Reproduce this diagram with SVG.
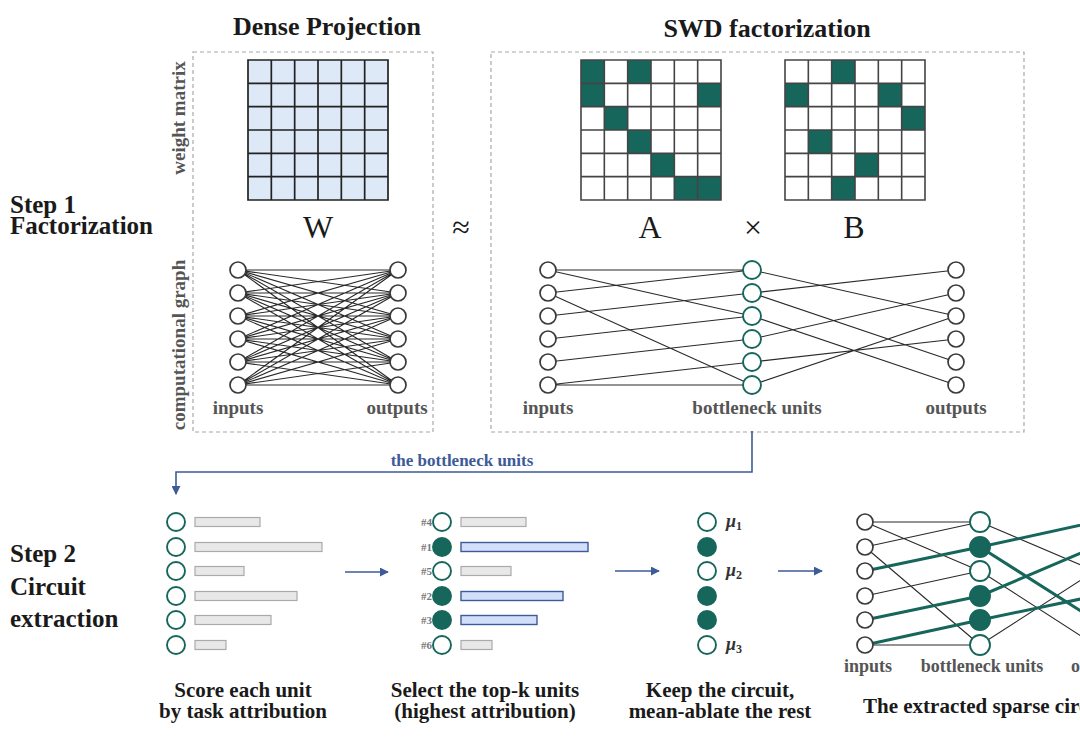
<svg xmlns="http://www.w3.org/2000/svg" width="1080" height="744" viewBox="0 0 1080 744">
<defs>
<marker id="ah" viewBox="0 0 10 10" refX="9" refY="5" markerWidth="9" markerHeight="9" markerUnits="userSpaceOnUse" orient="auto">
<path d="M0 0L10 5L0 10z" fill="#3d5a99"/>
</marker>
</defs>
<style>
.t{font-family:"Liberation Serif","Times New Roman",serif;font-weight:bold;fill:#1a1a1a}
.lab{font-family:"Liberation Serif",serif;font-weight:bold;fill:#555}
.sym{font-family:"Liberation Serif",serif;fill:#1a1a1a;font-size:32px}
.box{fill:none;stroke:#a8a8a8;stroke-width:1.2;stroke-dasharray:4 3}
.grid{fill:none;stroke:#222;stroke-width:1.7}
.ggrid{fill:none;stroke:#444;stroke-width:1.6}
.fc{fill:#17665b}
.edge{fill:none;stroke:#2a2a2a;stroke-width:1.1}
.thick{fill:none;stroke:#17665b;stroke-width:3}
.nd{fill:#fff;stroke:#3a3a3a;stroke-width:1.7}
.nt{fill:#fff;stroke:#17665b;stroke-width:1.9}
.nf{fill:#17665b;stroke:#17665b;stroke-width:1.9}
.bar{fill:#e8e8e8;stroke:#aaa;stroke-width:1.2}
.bb{fill:#d2defa;stroke:#3d5a99;stroke-width:1.4}
.arr{fill:none;stroke:#3d5a99;stroke-width:1.6}
.rk{font-family:"Liberation Serif",serif;font-weight:bold;font-size:11px;fill:#777}
.mu{font-family:"Liberation Serif",serif;font-style:italic;font-weight:bold;font-size:18px;fill:#333}
</style>
<rect width="1080" height="744" fill="#fff"/>

<g id="labels-left">
<text class="t" x="10" y="213" font-size="25">Step 1</text>
<text class="t" x="10" y="234" font-size="25">Factorization</text>
<text class="t" x="10" y="562" font-size="25">Step 2</text>
<text class="t" x="10" y="595" font-size="25">Circuit</text>
<text class="t" x="10" y="627" font-size="25">extraction</text>
</g>

<g id="dense-panel">
<text class="t" x="327" y="35" font-size="26" text-anchor="middle">Dense Projection</text>
<rect class="box" x="193" y="52" width="240" height="380"/>
<text class="lab" font-size="19" text-anchor="middle" transform="translate(185 118) rotate(-90)">weight matrix</text>
<text class="lab" font-size="19" text-anchor="middle" transform="translate(185 345) rotate(-90)">computational graph</text>
</g>

<g id="matrix-W">
<rect x="248" y="60" width="140" height="140" fill="#dde9f6"/>
<path class="grid" d="M248 60H388V200H248Z M271.33 60V200 M294.67 60V200 M318 60V200 M341.33 60V200 M364.67 60V200 M248 83.33H388 M248 106.67H388 M248 130H388 M248 153.33H388 M248 176.67H388"/>
<text class="sym" x="318" y="238" text-anchor="middle">W</text>
</g>

<text class="sym" x="461" y="238" text-anchor="middle">≈</text>

<g id="swd-panel">
<text class="t" x="767" y="37" font-size="26" text-anchor="middle">SWD factorization</text>
<rect class="box" x="491" y="52" width="533" height="380"/>
</g>

<g id="matrix-A" transform="translate(581 60)">
<rect width="140" height="140" fill="#fff"/>
<rect class="fc" x="0" y="0" width="23.33" height="23.33"/>
<rect class="fc" x="46.67" y="0" width="23.33" height="23.33"/>
<rect class="fc" x="0" y="23.33" width="23.33" height="23.33"/>
<rect class="fc" x="116.67" y="23.33" width="23.33" height="23.33"/>
<rect class="fc" x="23.33" y="46.67" width="23.33" height="23.33"/>
<rect class="fc" x="46.67" y="70" width="23.33" height="23.33"/>
<rect class="fc" x="70" y="93.33" width="23.33" height="23.33"/>
<rect class="fc" x="93.33" y="116.67" width="23.33" height="23.33"/>
<rect class="fc" x="116.67" y="116.67" width="23.33" height="23.33"/>
<path class="ggrid" d="M0 0H140V140H0Z M23.33 0V140 M46.67 0V140 M70 0V140 M93.33 0V140 M116.67 0V140 M0 23.33H140 M0 46.67H140 M0 70H140 M0 93.33H140 M0 116.67H140"/>
<text class="sym" x="69" y="178" text-anchor="middle">A</text>
</g>

<text class="sym" x="753" y="238" text-anchor="middle">×</text>

<g id="matrix-B" transform="translate(785 60)">
<rect width="140" height="140" fill="#fff"/>
<rect class="fc" x="46.67" y="0" width="23.33" height="23.33"/>
<rect class="fc" x="0" y="23.33" width="23.33" height="23.33"/>
<rect class="fc" x="93.33" y="23.33" width="23.33" height="23.33"/>
<rect class="fc" x="116.67" y="46.67" width="23.33" height="23.33"/>
<rect class="fc" x="23.33" y="70" width="23.33" height="23.33"/>
<rect class="fc" x="70" y="93.33" width="23.33" height="23.33"/>
<rect class="fc" x="46.67" y="116.67" width="23.33" height="23.33"/>
<path class="ggrid" d="M0 0H140V140H0Z M23.33 0V140 M46.67 0V140 M70 0V140 M93.33 0V140 M116.67 0V140 M0 23.33H140 M0 46.67H140 M0 70H140 M0 93.33H140 M0 116.67H140"/>
<text class="sym" x="69" y="178" text-anchor="middle">B</text>
</g>

<g id="connectors">
<path class="edge" d="M238 270L398 270M238 270L398 293M238 270L398 316M238 270L398 339M238 270L398 362M238 270L398 385
M238 293L398 270M238 293L398 293M238 293L398 316M238 293L398 339M238 293L398 362M238 293L398 385
M238 316L398 270M238 316L398 293M238 316L398 316M238 316L398 339M238 316L398 362M238 316L398 385
M238 339L398 270M238 339L398 293M238 339L398 316M238 339L398 339M238 339L398 362M238 339L398 385
M238 362L398 270M238 362L398 293M238 362L398 316M238 362L398 339M238 362L398 362M238 362L398 385
M238 385L398 270M238 385L398 293M238 385L398 316M238 385L398 339M238 385L398 362M238 385L398 385"/>
<path class="edge" stroke-width="1.3" d="M548 270L752 270M548 270L752 316M548 293L752 270M548 293L752 385M548 316L752 293M548 339L752 316M548 362L752 339M548 385L752 362M548 385L752 385
M752 270L956 316M752 293L956 270M752 293L956 362M752 316L956 385M752 339L956 293M752 362L956 339M752 385L956 316"/>
<path class="arr" d="M752 431V472H176V494" marker-end="url(#ah)"/>
<path class="arr" d="M345 572H388" marker-end="url(#ah)"/>
<path class="arr" d="M615 571H659" marker-end="url(#ah)"/>
<path class="arr" d="M778 571H822" marker-end="url(#ah)"/>
<path class="edge" stroke="#555" d="M865 522L980 522M865 522L980 571M865 547L980 522M865 547L980 645M865 596L980 571M865 645L980 645M980 522L1095 571M980 571L1095 645M980 645L1095 571"/>
<path class="thick" d="M865 571L980 547M865 620L980 596M865 645L980 620M980 547L1095 522M980 547L1095 620M980 596L1095 547M980 620L1095 596"/>
</g>

<text x="462" y="466" font-family="Liberation Serif,serif" font-weight="bold" font-size="17" fill="#3d5a99" text-anchor="middle">the bottleneck units</text>

<g id="dense-nodes">
<circle class="nd" cx="238" cy="270" r="8"/><circle class="nd" cx="238" cy="293" r="8"/><circle class="nd" cx="238" cy="316" r="8"/><circle class="nd" cx="238" cy="339" r="8"/><circle class="nd" cx="238" cy="362" r="8"/><circle class="nd" cx="238" cy="385" r="8"/>
<circle class="nd" cx="398" cy="270" r="8"/><circle class="nd" cx="398" cy="293" r="8"/><circle class="nd" cx="398" cy="316" r="8"/><circle class="nd" cx="398" cy="339" r="8"/><circle class="nd" cx="398" cy="362" r="8"/><circle class="nd" cx="398" cy="385" r="8"/>
<text class="lab" x="238" y="414" font-size="19" text-anchor="middle">inputs</text>
<text class="lab" x="397" y="414" font-size="19" text-anchor="middle">outputs</text>
</g>

<g id="swd-nodes">
<circle class="nd" cx="548" cy="270" r="8"/><circle class="nd" cx="548" cy="293" r="8"/><circle class="nd" cx="548" cy="316" r="8"/><circle class="nd" cx="548" cy="339" r="8"/><circle class="nd" cx="548" cy="362" r="8"/><circle class="nd" cx="548" cy="385" r="8"/>
<circle class="nt" cx="752" cy="270" r="9"/><circle class="nt" cx="752" cy="293" r="9"/><circle class="nt" cx="752" cy="316" r="9"/><circle class="nt" cx="752" cy="339" r="9"/><circle class="nt" cx="752" cy="362" r="9"/><circle class="nt" cx="752" cy="385" r="9"/>
<circle class="nd" cx="956" cy="270" r="8"/><circle class="nd" cx="956" cy="293" r="8"/><circle class="nd" cx="956" cy="316" r="8"/><circle class="nd" cx="956" cy="339" r="8"/><circle class="nd" cx="956" cy="362" r="8"/><circle class="nd" cx="956" cy="385" r="8"/>
<text class="lab" x="548" y="414" font-size="19" text-anchor="middle">inputs</text>
<text class="lab" x="757" y="414" font-size="19" text-anchor="middle">bottleneck units</text>
<text class="lab" x="956" y="414" font-size="19" text-anchor="middle">outputs</text>
</g>

<g id="score-stage">
<circle class="nt" cx="176" cy="522" r="9"/><circle class="nt" cx="176" cy="547" r="9"/><circle class="nt" cx="176" cy="571" r="9"/><circle class="nt" cx="176" cy="596" r="9"/><circle class="nt" cx="176" cy="620" r="9"/><circle class="nt" cx="176" cy="645" r="9"/>
<rect class="bar" x="195" y="517.5" width="65" height="9"/>
<rect class="bar" x="195" y="542.5" width="127" height="9"/>
<rect class="bar" x="195" y="566.5" width="49" height="9"/>
<rect class="bar" x="195" y="591.5" width="102" height="9"/>
<rect class="bar" x="195" y="615.5" width="76" height="9"/>
<rect class="bar" x="195" y="640.5" width="31" height="9"/>
<text class="t" x="243" y="697" font-size="21" text-anchor="middle">Score each unit</text>
<text class="t" x="243" y="718" font-size="21" text-anchor="middle">by task attribution</text>
</g>

<g id="select-stage">
<text class="rk" x="432" y="526" text-anchor="end">#4</text>
<text class="rk" x="432" y="551" text-anchor="end">#1</text>
<text class="rk" x="432" y="575" text-anchor="end">#5</text>
<text class="rk" x="432" y="600" text-anchor="end">#2</text>
<text class="rk" x="432" y="624" text-anchor="end">#3</text>
<text class="rk" x="432" y="649" text-anchor="end">#6</text>
<circle class="nt" cx="442" cy="522" r="9"/><circle class="nf" cx="442" cy="547" r="9"/><circle class="nt" cx="442" cy="571" r="9"/><circle class="nf" cx="442" cy="596" r="9"/><circle class="nf" cx="442" cy="620" r="9"/><circle class="nt" cx="442" cy="645" r="9"/>
<rect class="bar" x="461" y="517.5" width="65" height="9"/>
<rect class="bb" x="461" y="542.5" width="127" height="9"/>
<rect class="bar" x="461" y="566.5" width="50" height="9"/>
<rect class="bb" x="461" y="591.5" width="102" height="9"/>
<rect class="bb" x="461" y="615.5" width="76" height="9"/>
<rect class="bar" x="461" y="640.5" width="31" height="9"/>
<text class="t" x="485" y="697" font-size="21" text-anchor="middle">Select the top-k units</text>
<text class="t" x="485" y="718" font-size="21" text-anchor="middle">(highest attribution)</text>
</g>

<g id="ablate-stage">
<circle class="nt" cx="707" cy="522" r="9"/><circle class="nf" cx="707" cy="547" r="9"/><circle class="nt" cx="707" cy="571" r="9"/><circle class="nf" cx="707" cy="596" r="9"/><circle class="nf" cx="707" cy="620" r="9"/><circle class="nt" cx="707" cy="645" r="9"/>
<text class="mu" x="726" y="527">μ<tspan font-size="12" font-style="normal" dy="3">1</tspan></text>
<text class="mu" x="726" y="576">μ<tspan font-size="12" font-style="normal" dy="3">2</tspan></text>
<text class="mu" x="726" y="650">μ<tspan font-size="12" font-style="normal" dy="3">3</tspan></text>
<text class="t" x="720" y="697" font-size="21" text-anchor="middle">Keep the circuit,</text>
<text class="t" x="720" y="718" font-size="21" text-anchor="middle">mean-ablate the rest</text>
</g>

<g id="extracted-stage">
<circle class="nd" cx="865" cy="522" r="8"/><circle class="nd" cx="865" cy="547" r="8"/><circle class="nd" cx="865" cy="571" r="8"/><circle class="nd" cx="865" cy="596" r="8"/><circle class="nd" cx="865" cy="620" r="8"/><circle class="nd" cx="865" cy="645" r="8"/>
<circle class="nt" cx="980" cy="522" r="10"/><circle class="nf" cx="980" cy="547" r="10"/><circle class="nt" cx="980" cy="571" r="10"/><circle class="nf" cx="980" cy="596" r="10"/><circle class="nf" cx="980" cy="620" r="10"/><circle class="nt" cx="980" cy="645" r="10"/>
<text class="lab" x="868" y="672" font-size="18" text-anchor="middle">inputs</text>
<text class="lab" x="982" y="672" font-size="18" text-anchor="middle">bottleneck units</text>
<text class="lab" x="1100" y="672" font-size="18" text-anchor="middle">outputs</text>
<text class="t" x="863" y="713" font-size="21">The extracted sparse circuit</text>
</g>
</svg>
